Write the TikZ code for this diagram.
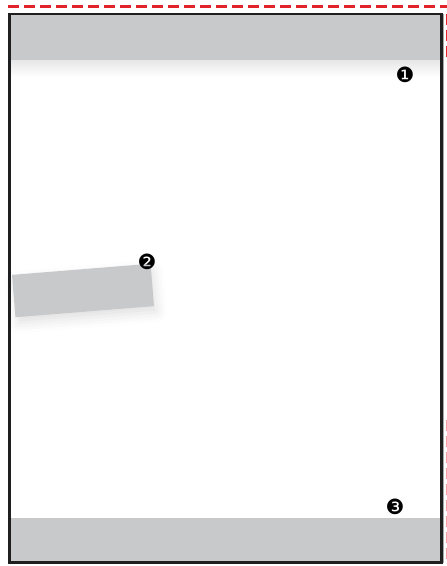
\documentclass[tikz,border=0pt]{standalone}
\usepackage{fontspec}
\usepackage{tikz}
\usetikzlibrary{shadows.blur,positioning}
\newfontfamily\dingfont{DejaVu Sans}
\definecolor{bandgray}{HTML}{C8C9CB}
\definecolor{cutred}{HTML}{E3232C}
\tikzset{
  pageframe/.style={
    draw=black!88,
    line width=2.4pt
  },
  bandbox/.style={
    rectangle,
    fill=bandgray,
    inner sep=0pt,
    minimum width=430pt
  },
  slipbox/.style={
    rectangle,
    fill=bandgray,
    inner sep=0pt,
    minimum width=139pt,
    minimum height=42.5pt,
    rotate=4.6,
    blur shadow={shadow xshift=3pt,shadow yshift=-6pt,shadow blur radius=10pt,shadow opacity=12}
  },
  callout/.style={
    font=\dingfont\fontsize{21}{21}\selectfont,
    inner sep=0pt
  },
  cutline/.style={
    draw=cutred,
    line width=2.6pt,
    dash pattern=on 11pt off 5pt
  }
}
\begin{document}
\begin{tikzpicture}[x=1pt,y=1pt]
  \useasboundingbox (0,0) rectangle (447,566);
  % cut marks
  \coordinate (cutA) at (8,559.5);
  \coordinate (cutB) at (447,559.5);
  \draw[cutline] (cutA) -- (cutB);
  % bands
  \node[bandbox, minimum height=46pt] (topband) at (225.5,528) {};
  \shade[top color=black!9, bottom color=white] (10.5,505) rectangle (440.5,489);
  \node[bandbox, minimum height=44pt] (botband) at (225.5,26) {};
  \node[slipbox] (slip) at (83,275.5) {};
  % frame
  \coordinate (edgeA) at (443.3,552);
  \coordinate (edgeB) at (443.3,3);
  \draw[black!35, line width=0.7pt] (edgeA) -- (edgeB);
  \draw[pageframe] (9.5,552) rectangle (441.5,3.5);
  \coordinate (cutC) at (446.2,552);
  \coordinate (cutD) at (446.2,505);
  \draw[cutline, line width=1.4pt] (cutC) -- (cutD);
  \coordinate (cutE) at (446.2,146);
  \coordinate (cutF) at (446.2,3);
  \draw[cutline, draw=cutred!45, line width=1.4pt] (cutE) -- (cutF);
  % callouts
  \node[callout] (one) at (405,491) {❶};
  \node[callout] (two) at (147,304) {❷};
  \node[callout] (three) at (395,59) {❸};
\end{tikzpicture}
\end{document}
